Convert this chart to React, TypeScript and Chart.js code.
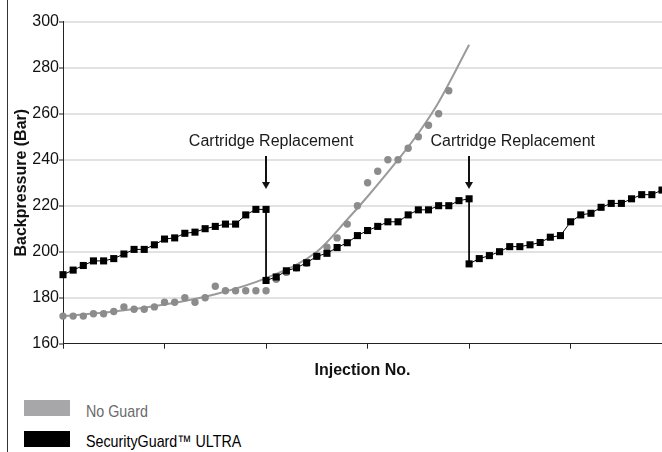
import React, { useEffect, useRef } from 'react';
import { Chart, registerables } from 'chart.js';

Chart.register(...registerables);

// ---------- data ----------
const injections = [
  0, 1, 2, 3, 4, 5, 6, 7, 8, 9,
  10, 11, 12, 13, 14, 15, 16, 17, 18, 19,
  20, 21, 22, 23, 24, 25, 26, 27, 28, 29,
  30, 31, 32, 33, 34, 35, 36, 37, 38, 39,
  40, 41, 42, 43, 44, 45, 46, 47, 48, 49,
  50, 51, 52, 53, 54, 55, 56, 57, 58, 59,
];

// SecurityGuard ULTRA backpressure (Bar), one value per injection
const securityGuard = [
  190, 192, 194, 196, 196, 197, 199, 201, 201, 203,
  205.5, 206, 208, 208.5, 210, 211, 212, 212, 216, 218.4,
  218.4, 189, 191.7, 193, 195.2, 198, 199.3, 201.8, 203.9, 207,
  209.2, 211, 213, 213, 216, 218.2, 218.2, 220, 220, 222.2,
  223, 197, 198.3, 200, 202.2, 202.2, 203, 204, 206.3, 207,
  213, 216, 216.7, 219.3, 221, 221, 223, 224.8, 224.8, 226.8,
];

// cartridge replacements: injection no. and backpressure right after replacement
const replacementInjections = [20, 40];
const afterReplacement = [187.5, 194.7];

// No Guard backpressure (Bar), injections 0..38
const noGuard = [
  172, 172, 172, 173, 173, 174, 176, 175, 175, 176,
  178, 178, 180, 178, 180, 185, 183, 183, 183, 183,
  183, 188, 191, 193, 195, 198, 202, 206, 212, 220,
  230, 235, 240, 240, 245, 250, 255, 260, 270,
];

// No Guard trend curve
const trendInjections = [0, 5, 10, 15, 20, 25, 28, 30, 33, 35, 37, 40];
const trendValues = [172, 174, 177, 181.5, 188.5, 200, 214, 224, 240, 251.5, 265, 290];

const yTicks = [160, 180, 200, 220, 240, 260, 280, 300];
const xTicks = [0, 10, 20, 30, 40, 50];

const annotationText = 'Cartridge Replacement';
const annotationLabelX = [20.5, 44.3];
const annotationLabelY = 248.0;
const arrowTop = 241.6;
const arrowTip = 227.3;

const seriesNames = ['No Guard', 'SecurityGuard\u2122 ULTRA'];

// ---------- helpers ----------
function buildSecurityGuardPoints() {
  const pts: { x: number; y: number }[] = [];
  injections.forEach((inj, i) => {
    pts.push({ x: inj, y: securityGuard[i] });
    const r = replacementInjections.indexOf(inj);
    if (r >= 0) pts.push({ x: inj, y: afterReplacement[r] });
  });
  return pts;
}

const FONT = "'Liberation Sans', Arimo, Arial, Helvetica, sans-serif";

const annotationPlugin = {
  id: 'cartridgeAnnotations',
  afterDatasetsDraw(chart: any) {
    const { ctx, scales } = chart;
    const x = scales.x;
    const y = scales.y;
    ctx.save();
    ctx.font = `16px ${FONT}`;
    ctx.textAlign = 'center';
    ctx.textBaseline = 'middle';
    replacementInjections.forEach((inj, i) => {
      ctx.fillStyle = '#1a1a1a';
      ctx.fillText(annotationText, x.getPixelForValue(annotationLabelX[i]), y.getPixelForValue(annotationLabelY));
      const px = Math.round(x.getPixelForValue(inj));
      const top = y.getPixelForValue(arrowTop);
      const tip = y.getPixelForValue(arrowTip);
      ctx.strokeStyle = '#111';
      ctx.lineWidth = 2;
      ctx.beginPath();
      ctx.moveTo(px, top);
      ctx.lineTo(px, tip - 6);
      ctx.stroke();
      ctx.fillStyle = '#111';
      ctx.beginPath();
      ctx.moveTo(px - 4, tip - 7);
      ctx.lineTo(px + 4, tip - 7);
      ctx.lineTo(px, tip);
      ctx.closePath();
      ctx.fill();
    });
    ctx.restore();
  },
};

export default function App() {
  const canvasRef = useRef<HTMLCanvasElement | null>(null);

  useEffect(() => {
    if (!canvasRef.current) return;
    Chart.defaults.font.family = FONT;
    const chart = new Chart(canvasRef.current, {
      type: 'line',
      data: {
        datasets: [
          {
            label: seriesNames[1],
            data: buildSecurityGuardPoints(),
            borderColor: '#000',
            borderWidth: 1,
            backgroundColor: '#000',
            pointStyle: 'rect',
            pointRadius: 5,
            pointBorderWidth: 0,
            pointBackgroundColor: '#000',
            tension: 0,
            clip: false,
          } as any,
          {
            label: seriesNames[0],
            data: noGuard.map((v, i) => ({ x: injections[i], y: v })),
            showLine: false,
            pointStyle: 'circle',
            pointRadius: 3.7,
            pointBorderWidth: 0,
            pointBackgroundColor: '#8c8c8c',
            borderColor: '#8c8c8c',
            clip: false,
          } as any,
          {
            label: 'trend',
            data: trendInjections.map((x, i) => ({ x, y: trendValues[i] })),
            borderColor: '#9b9b9b',
            borderWidth: 2,
            pointRadius: 0,
            cubicInterpolationMode: 'monotone',
            fill: false,
          } as any,
        ],
      },
      options: {
        animation: false,
        responsive: false,
        devicePixelRatio: 1,
        events: [],
        layout: { autoPadding: false, padding: { top: 21.7, right: 0, bottom: 0, left: 0 } },
        plugins: {
          legend: { display: false },
          tooltip: { enabled: false },
          title: { display: false },
        },
        scales: {
          x: {
            type: 'linear',
            min: 0,
            max: 59,
            position: 'bottom',
            afterBuildTicks: (s: any) => {
              s.ticks = xTicks.map((v) => ({ value: v }));
            },
            afterFit: (s: any) => {
              s.height = 46.3;
            },
            ticks: { display: false },
            grid: {
              drawOnChartArea: false,
              drawTicks: true,
              tickLength: 5,
              tickColor: '#222',
              tickWidth: 1,
              color: '#222',
            },
            border: { display: true, color: '#222', width: 1 },
            title: {
              display: true,
              text: 'Injection No.',
              color: '#111',
              font: { size: 16, weight: 'bold', family: FONT },
              padding: { top: 0, bottom: 9.5 },
            },
          },
          y: {
            type: 'linear',
            min: 160,
            max: 300,
            afterBuildTicks: (s: any) => {
              s.ticks = yTicks.map((v) => ({ value: v }));
            },
            afterFit: (s: any) => {
              s.width = 54;
            },
            ticks: {
              color: '#111',
              padding: 0,
              font: { size: 16, family: FONT },
            },
            grid: {
              color: (c: any) => (c.tick && c.tick.value === 160 ? 'rgba(0,0,0,0)' : '#e2e2e2'),
              lineWidth: 2,
              drawTicks: true,
              tickLength: 4,
              tickColor: '#222',
              tickWidth: 1,
            },
            border: { display: true, color: '#222', width: 1 },
            title: {
              display: true,
              text: 'Backpressure (Bar)',
              color: '#111',
              font: { size: 16, weight: 'bold', family: FONT },
              padding: { top: 3, bottom: 0 },
            },
          },
        },
      } as any,
      plugins: [annotationPlugin],
    });
    return () => chart.destroy();
  }, []);

  const legendItems = [
    { name: seriesNames[0], swatch: '#a7a7a9', text: '#6a6a6a', top: 400, textTop: 402.4 },
    { name: seriesNames[1], swatch: '#000000', text: '#000000', top: 431, textTop: 432.4 },
  ];

  return (
    <div
      style={{
        position: 'fixed',
        left: 0,
        top: 0,
        width: 662,
        height: 452,
        overflow: 'hidden',
        background: '#fff',
      }}
    >
      <div style={{ position: 'absolute', left: 7, top: 0, width: 1, height: 452, background: '#333' }} />
      <canvas
        ref={canvasRef}
        width={653}
        height={390}
        style={{ position: 'absolute', left: 9, top: 0, width: 653, height: 390 }}
      />
      {legendItems.map((it) => (
        <React.Fragment key={it.name}>
          <div
            style={{
              position: 'absolute',
              left: 24,
              top: it.top,
              width: 46,
              height: 16,
              background: it.swatch,
            }}
          />
          <div
            style={{
              position: 'absolute',
              left: 86,
              top: it.textTop,
              height: 20,
              lineHeight: '20px',
              fontFamily: FONT,
              fontSize: 17,
              color: it.text,
              whiteSpace: 'nowrap',
              transform: 'scaleX(0.84)',
              transformOrigin: '0 50%',
            }}
          >
            {it.name}
          </div>
        </React.Fragment>
      ))}
    </div>
  );
}
